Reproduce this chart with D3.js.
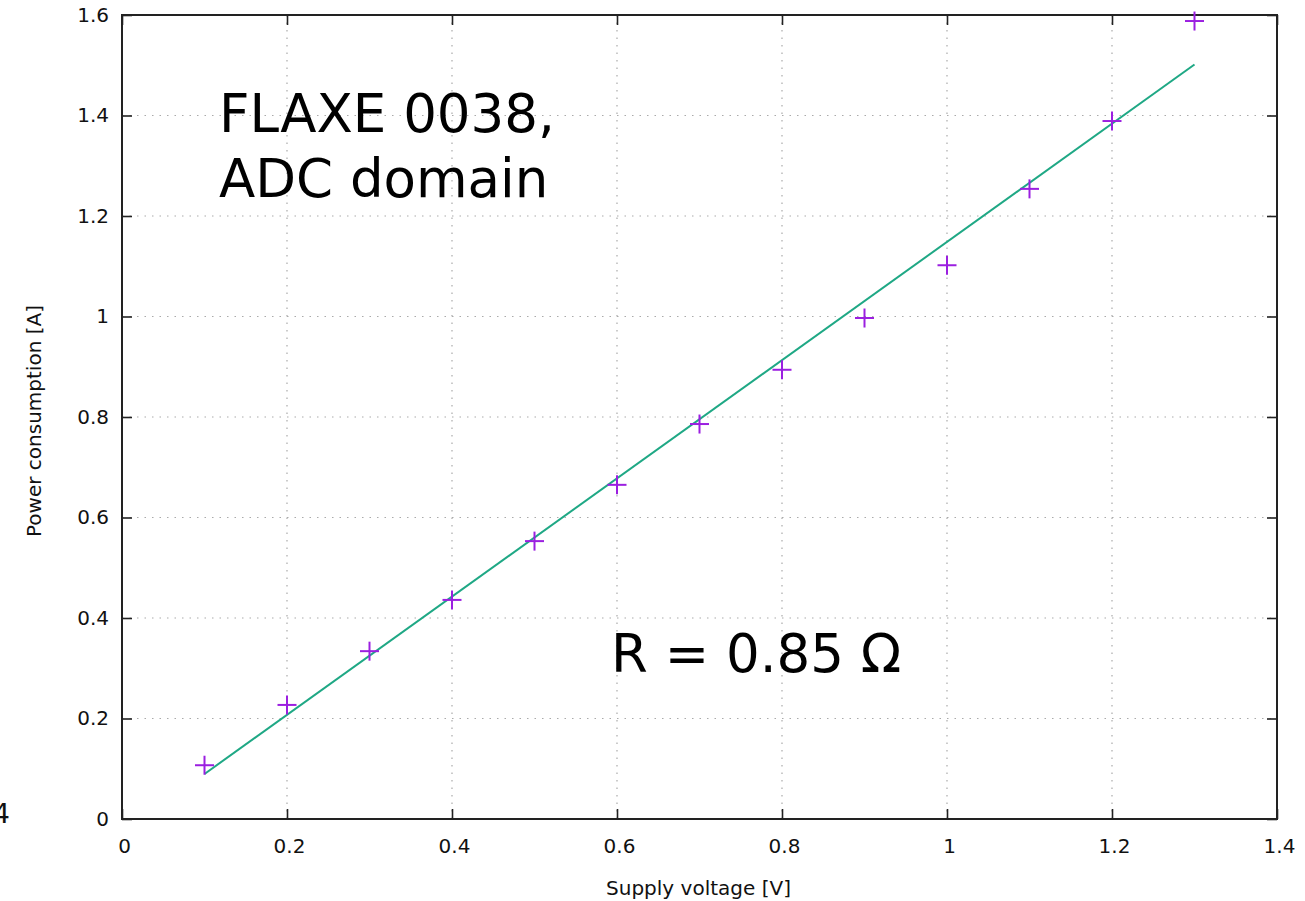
<!DOCTYPE html>
<html>
<head>
<meta charset="utf-8">
<script src="https://cdn.jsdelivr.net/npm/d3@7"></script>
<style>
  html, body { margin: 0; padding: 0; background: #fff; }
  svg { display: block; font-family: "DejaVu Sans", sans-serif; }
</style>
</head>
<body>
<svg id="chart" width="1305" height="901"></svg>
<script>
// Measured supply voltage [V] and current draw [A]
const voltage = [0.1, 0.2, 0.3, 0.4, 0.5, 0.6, 0.7, 0.8, 0.9, 1.0, 1.1, 1.2, 1.3];
const current = [0.107, 0.227, 0.334, 0.436, 0.553, 0.665, 0.786, 0.894, 0.997, 1.102, 1.254, 1.389, 1.588];

// Linear fit: I = V / R + offset
const resistance = 0.85;
const fitOffset = -0.028;
const fitRange = [0.1, 1.3];

const xTicks = [0, 0.2, 0.4, 0.6, 0.8, 1.0, 1.2, 1.4];
const yTicks = [0, 0.2, 0.4, 0.6, 0.8, 1.0, 1.2, 1.4, 1.6];

const titleLines = ["FLAXE 0038,", "ADC domain"];
const fitLabel = "R = 0.85 \u03A9";

(function () {
  const svg = d3.select("#chart");
  const pLeft = 122, pRight = 1277, pTop = 15, pBottom = 819;

  const x = d3.scaleLinear().domain([0, 1.4]).range([pLeft, pRight]);
  const y = d3.scaleLinear().domain([0, 1.6]).range([pBottom, pTop]);

  // Dotted grid
  const grid = svg.append("g").attr("stroke", "#aaa").attr("stroke-width", 1.2)
    .attr("stroke-dasharray", "1.5,6");
  grid.selectAll("line.gx").data(xTicks.slice(1, -1)).join("line").attr("class", "gx")
    .attr("x1", d => x(d)).attr("x2", d => x(d)).attr("y1", pBottom).attr("y2", pTop);
  grid.selectAll("line.gy").data(yTicks.slice(1, -1)).join("line").attr("class", "gy")
    .attr("y1", d => y(d)).attr("y2", d => y(d)).attr("x1", pLeft).attr("x2", pRight);

  // Axes with inward ticks, mirrored on the opposite sides
  const tickLen = 10;
  const fmt = d3.format("~g");
  const axStyle = g => {
    g.select(".domain").remove();
    g.selectAll(".tick line").attr("stroke", "#222").attr("stroke-width", 1.6);
    g.selectAll(".tick text").attr("fill", "#111").attr("font-size", 20)
      .attr("font-family", "DejaVu Sans, sans-serif");
  };
  svg.append("g").attr("transform", `translate(2,${pBottom})`)
    .call(d3.axisBottom(x).tickValues(xTicks).tickFormat(fmt).tickSize(0).tickPadding(20))
    .call(axStyle);
  svg.append("g").attr("transform", `translate(0,${pBottom})`)
    .call(d3.axisBottom(x).tickValues(xTicks).tickFormat("").tickSize(-tickLen))
    .call(axStyle);
  svg.append("g").attr("transform", `translate(${pLeft},0)`)
    .call(d3.axisLeft(y).tickValues(yTicks).tickFormat(fmt).tickSize(-tickLen).tickPadding(13))
    .call(axStyle);
  svg.append("g").attr("transform", `translate(0,${pTop})`)
    .call(d3.axisTop(x).tickValues(xTicks).tickFormat("").tickSize(-tickLen))
    .call(axStyle);
  svg.append("g").attr("transform", `translate(${pRight},0)`)
    .call(d3.axisRight(y).tickValues(yTicks).tickFormat("").tickSize(-tickLen))
    .call(axStyle);

  // Plot border
  svg.append("rect").attr("x", pLeft).attr("y", pTop)
    .attr("width", pRight - pLeft).attr("height", pBottom - pTop)
    .attr("fill", "none").attr("stroke", "#222").attr("stroke-width", 2);

  // Fitted line
  const fit = v => v / resistance + fitOffset;
  svg.append("path")
    .datum(fitRange)
    .attr("d", d3.line().x(d => x(d)).y(d => y(fit(d))))
    .attr("fill", "none").attr("stroke", "#1fa885").attr("stroke-width", 2);

  // Measurement markers (plus signs)
  const half = 9.5;
  const pts = svg.append("g").attr("stroke", "#9b1fe0").attr("stroke-width", 2);
  voltage.forEach((v, i) => {
    const cx = x(v), cy = y(current[i]);
    pts.append("line").attr("x1", cx - half).attr("x2", cx + half).attr("y1", cy).attr("y2", cy);
    pts.append("line").attr("x1", cx).attr("x2", cx).attr("y1", cy - half).attr("y2", cy + half);
  });

  // Axis titles
  svg.append("text").attr("x", (pLeft + pRight) / 2 - 1).attr("y", 895)
    .attr("text-anchor", "middle").attr("font-size", 20).attr("fill", "#111")
    .text("Supply voltage [V]");
  svg.append("text").attr("transform", `translate(41,${(pTop + pBottom) / 2 + 4}) rotate(-90)`)
    .attr("text-anchor", "middle").attr("font-size", 20).attr("fill", "#111")
    .text("Power consumption [A]");

  // Annotations
  svg.append("g").selectAll("text").data(titleLines).join("text")
    .attr("x", 219).attr("y", (d, i) => 132 + i * 65)
    .attr("font-size", 53).attr("fill", "#000").text(d => d);
  svg.append("text").attr("x", 611).attr("y", 672)
    .attr("font-size", 53).attr("fill", "#000").text(fitLabel);

  // Stray label clipped at the left edge
  svg.append("text").attr("x", 10).attr("y", 823).attr("text-anchor", "end")
    .attr("font-size", 27).attr("fill", "#111").text("4");
})();
</script>
</body>
</html>
